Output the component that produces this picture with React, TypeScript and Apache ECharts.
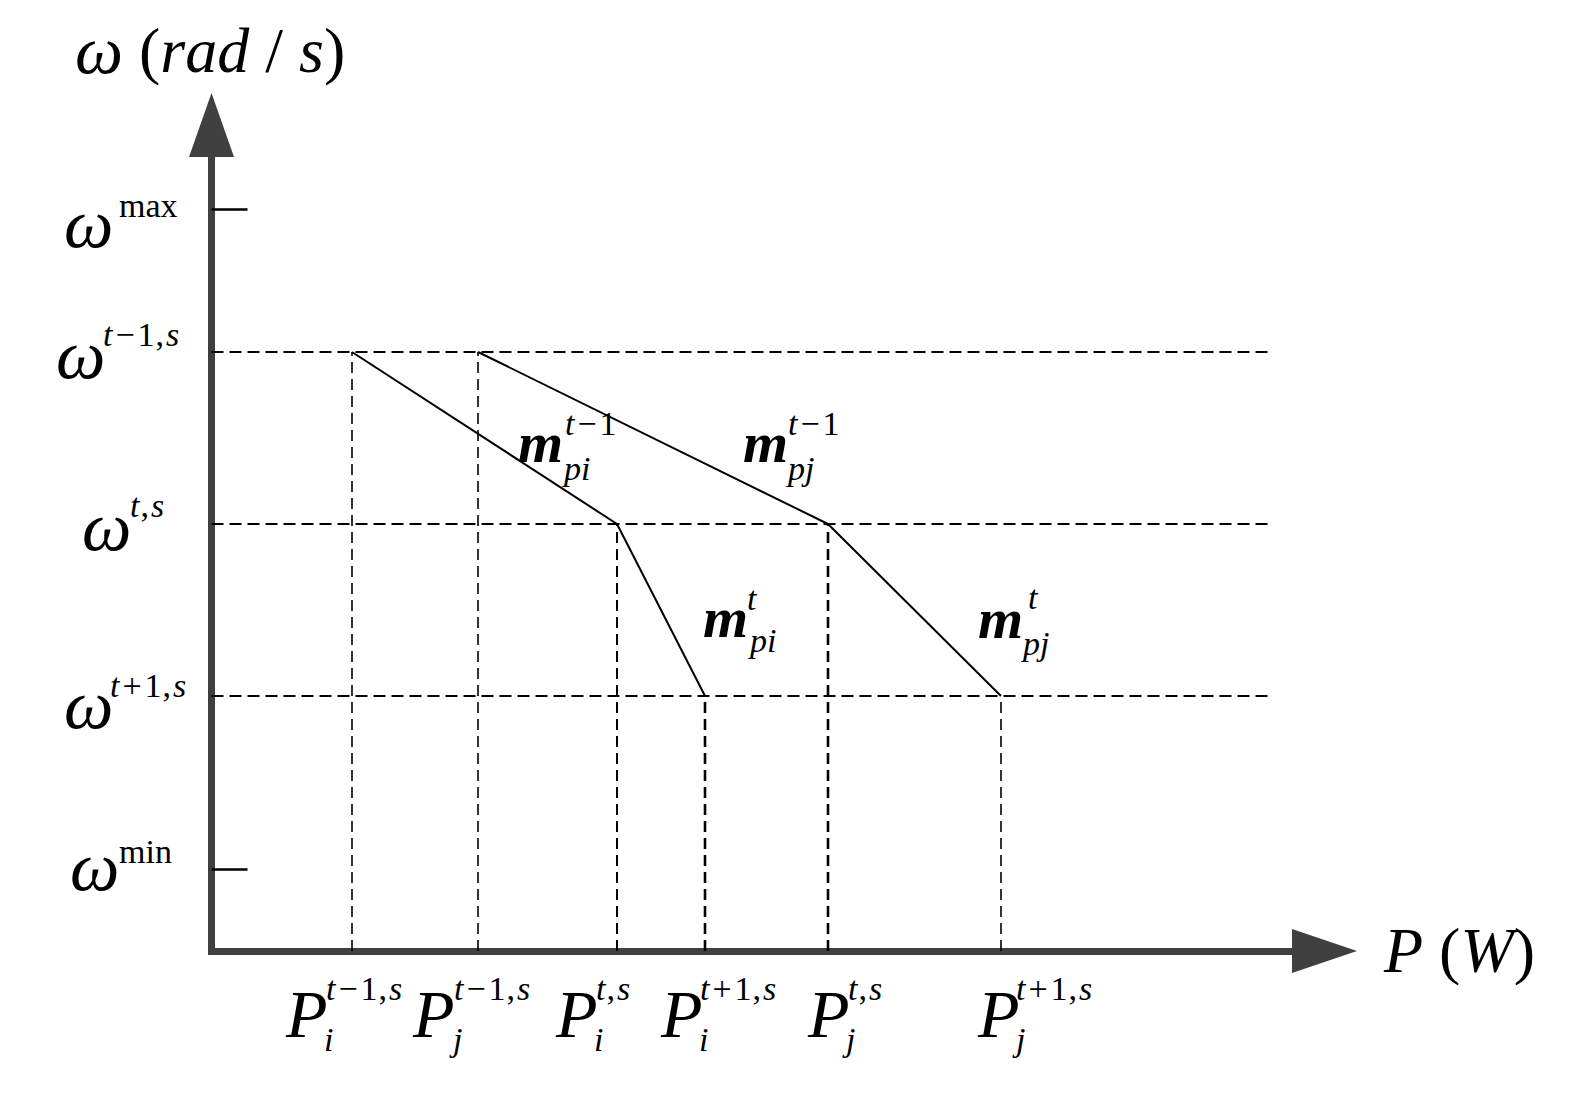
import React, { useEffect, useRef } from "react";
import * as echarts from "echarts";

// ---------- data (arbitrary units) ----------
const X_MAX = 111.3; // end of the P axis
const Y_MAX = 82.6; // end of the ω axis
const omegaLevelKeys = ["max", "t-1", "t", "t+1", "min"];
const omegaLevels = [74.2, 59.9, 42.7, 25.5, 8.2];
const omegaTicks = [74.2, 8.2]; // ω^max, ω^min
const stepLevels = [59.9, 42.7, 25.5]; // ω^{t-1,s}, ω^{t,s}, ω^{t+1,s}
const stepKeys = ["t-1", "t", "t+1"];
const powerI = [14.05, 40.55, 49.35]; // P_i^{t-1,s}, P_i^{t,s}, P_i^{t+1,s}
const powerJ = [26.65, 61.65, 78.95]; // P_j^{t-1,s}, P_j^{t,s}, P_j^{t+1,s}
const dashEnd = 106;
const slopeKeys = ["t-1", "t"];

// ---------- layout ----------
const FONT = '"Liberation Serif", "Times New Roman", serif';
const OMEGA = 70;
const PSIZE = 68;
const MSIZE = 58;
const TITLE = 64;
const SMALL = 34;
const CENTRAL = 0.3375;

const rich = {
  it: { fontFamily: FONT, fontSize: SMALL, fontStyle: "italic", fill: "#000" },
  rm: { fontFamily: FONT, fontSize: SMALL, fill: "#000" },
  op: { fontFamily: FONT, fontSize: SMALL, fill: "#000", padding: [0, 3, 0, 3] },
  cm: { fontFamily: FONT, fontSize: SMALL, fill: "#000", padding: [0, 2, 0, 1] },
  om: { fontFamily: FONT, fontSize: OMEGA, fontStyle: "italic", fill: "#000" },
  pp: { fontFamily: FONT, fontSize: PSIZE, fontStyle: "italic", fill: "#000" },
  ti: { fontFamily: FONT, fontSize: TITLE, fontStyle: "italic", fill: "#000" },
  tw: { fontFamily: FONT, fontSize: TITLE + 4, fontStyle: "italic", fill: "#000" },
  tr: { fontFamily: FONT, fontSize: TITLE, fill: "#000" },
  mb: { fontFamily: FONT, fontSize: MSIZE, fontStyle: "italic", fontWeight: "bold", fill: "#000" },
};

function supMarkup(key: string, withS = true): string {
  const s = withS ? "{cm|,}{it|s}" : "";
  if (key === "max") return "{rm|max}";
  if (key === "min") return "{rm|min}";
  if (key === "t-1") return "{it|t}{op|\u2212}{rm|1}" + s;
  if (key === "t+1") return "{it|t}{op|+}{rm|1}" + s;
  return "{it|t}" + s;
}

function textAt(x: number, baseline: number, text: string, size: number) {
  return {
    type: "text",
    x,
    y: baseline - CENTRAL * size,
    silent: true,
    z: 100,
    style: {
      text,
      fontFamily: FONT,
      fontSize: size,
      fill: "#000",
      align: "left",
      verticalAlign: "middle",
      rich,
    },
  };
}

// label offsets (pixels) relative to their anchors
const yLabelBaseDx = [-147.5, -155.5, -129.5, -147.5, -141.5];
const yLabelBaseDy = [38, 26, 26, 32, 21];
const yLabelSupDx = [-92.5, -108.5, -81.5, -101.5, -92.5];
const yLabelSupDy = [8, -6, -7, 1, -6];

const xLabelBaseDx = [-66, -65, -61, -44, -20, -23];
const xLabelSubDx = [-28, -25, -23, -6, 18, 15];
const xLabelSupDx = [-26, -24, -21, -5, 20, 15];
const X_BASE_DY = 86;
const X_SUB_DY = 100;
const X_SUP_DY = 49;
const vDashWidths = [1.6, 1.6, 2, 2.6, 2.6, 1.6];

// slope labels: [m dx, m dy, sup dx, sup dy, sub dx, sub dy] from segment midpoints
const slopeOffsetsI = [
  [33.5, 24, 80.5, -3, 79.5, 42],
  [42, 27, 86, 0, 89, 42],
];
const slopeOffsetsJ = [
  [90, 24, 135, -3, 135, 42],
  [63.5, 28, 113.5, -1, 108.5, 45],
];

export default function App() {
  const ref = useRef<HTMLDivElement>(null);

  useEffect(() => {
    if (!ref.current) return;
    const chart = echarts.init(ref.current, null, { renderer: "svg" });

    const xMarks = [
      { p: powerI[0], lvl: stepLevels[0], sub: "i", key: stepKeys[0] },
      { p: powerJ[0], lvl: stepLevels[0], sub: "j", key: stepKeys[0] },
      { p: powerI[1], lvl: stepLevels[1], sub: "i", key: stepKeys[1] },
      { p: powerI[2], lvl: stepLevels[2], sub: "i", key: stepKeys[2] },
      { p: powerJ[1], lvl: stepLevels[1], sub: "j", key: stepKeys[1] },
      { p: powerJ[2], lvl: stepLevels[2], sub: "j", key: stepKeys[2] },
    ];

    const series: any[] = [];
    stepLevels.forEach((l) => {
      series.push({
        type: "line",
        data: [
          [0, l],
          [dashEnd, l],
        ],
        symbol: "none",
        silent: true,
        z: 2,
        lineStyle: { color: "#000", width: 2.2, type: [12, 6] },
      });
    });
    xMarks.forEach((m, k) => {
      series.push({
        type: "line",
        data: [
          [m.p, 0],
          [m.p, m.lvl],
        ],
        symbol: "none",
        silent: true,
        z: 2,
        lineStyle: { color: "#000", width: vDashWidths[k], type: [11, 6] },
      });
    });
    [powerI, powerJ].forEach((pw) => {
      series.push({
        type: "line",
        data: pw.map((p, k) => [p, stepLevels[k]]),
        symbol: "none",
        silent: true,
        z: 3,
        lineStyle: { color: "#000", width: 2 },
      });
    });

    chart.setOption({
      animation: false,
      backgroundColor: "#fff",
      grid: { left: 211.5, right: 259.5, top: 125, bottom: 144, containLabel: false },
      xAxis: {
        type: "value",
        min: 0,
        max: X_MAX,
        axisLine: {
          show: true,
          symbol: ["none", "triangle"],
          symbolSize: [44, 65],
          lineStyle: { color: "#404040", width: 7, cap: "square" },
        },
        axisTick: { show: false },
        axisLabel: { show: false },
        splitLine: { show: false },
      },
      yAxis: {
        type: "value",
        min: 0,
        max: Y_MAX,
        axisLine: {
          show: true,
          symbol: ["none", "triangle"],
          symbolSize: [45, 64],
          lineStyle: { color: "#404040", width: 7, cap: "square" },
        },
        axisTick: {
          show: true,
          inside: true,
          length: 36,
          customValues: omegaTicks,
          lineStyle: { color: "#000", width: 2.5 },
        },
        axisLabel: { show: false },
        splitLine: { show: false },
      },
      series,
    });

    const px = (x: number, y: number) => chart.convertToPixel({ gridIndex: 0 }, [x, y]) as number[];
    const g: any[] = [];

    // y labels
    omegaLevels.forEach((lv, k) => {
      const [ax, ay] = px(0, lv);
      g.push(textAt(ax + yLabelBaseDx[k], ay + yLabelBaseDy[k], "{om|\u03c9}", OMEGA));
      g.push(textAt(ax + yLabelSupDx[k], ay + yLabelSupDy[k], supMarkup(omegaLevelKeys[k]), SMALL));
    });

    // x labels
    xMarks.forEach((m, k) => {
      const [ax, ay] = px(m.p, 0);
      g.push(textAt(ax + xLabelBaseDx[k], ay + X_BASE_DY, "{pp|P}", PSIZE));
      g.push(textAt(ax + xLabelSubDx[k], ay + X_SUB_DY, "{it|" + m.sub + "}", SMALL));
      g.push(textAt(ax + xLabelSupDx[k], ay + X_SUP_DY, supMarkup(m.key), SMALL));
    });

    // slope labels
    const slopeLabel = (pw: number[], offs: number[][], sub: string) => {
      for (let k = 0; k < 2; k++) {
        const a = px(pw[k], stepLevels[k]);
        const b = px(pw[k + 1], stepLevels[k + 1]);
        const mx = (a[0] + b[0]) / 2;
        const my = (a[1] + b[1]) / 2;
        const o = offs[k];
        g.push(textAt(mx + o[0], my + o[1], "{mb|m}", MSIZE));
        g.push(textAt(mx + o[2], my + o[3], supMarkup(slopeKeys[k], false), SMALL));
        g.push(textAt(mx + o[4], my + o[5], "{it|" + sub + "}", SMALL));
      }
    };
    slopeLabel(powerI, slopeOffsetsI, "pi");
    slopeLabel(powerJ, slopeOffsetsJ, "pj");

    // axis names
    const [yx, yy] = px(0, Y_MAX);
    g.push(
      textAt(yx - 136.5, yy - 53, "{tw|\u03c9} {tr|(}{ti|rad} {tr|/} {ti|s}{tr|)}", TITLE)
    );
    const [xx, xy] = px(X_MAX, 0);
    g.push(textAt(xx + 59.5, xy + 21, "{ti|P} {tr|(}{ti|W}{tr|)}", TITLE));

    chart.setOption({ graphic: g });

    return () => chart.dispose();
  }, []);

  return (
    <div
      ref={ref}
      style={{ position: "absolute", left: 0, top: 0, width: 1584, height: 1095 }}
    />
  );
}
